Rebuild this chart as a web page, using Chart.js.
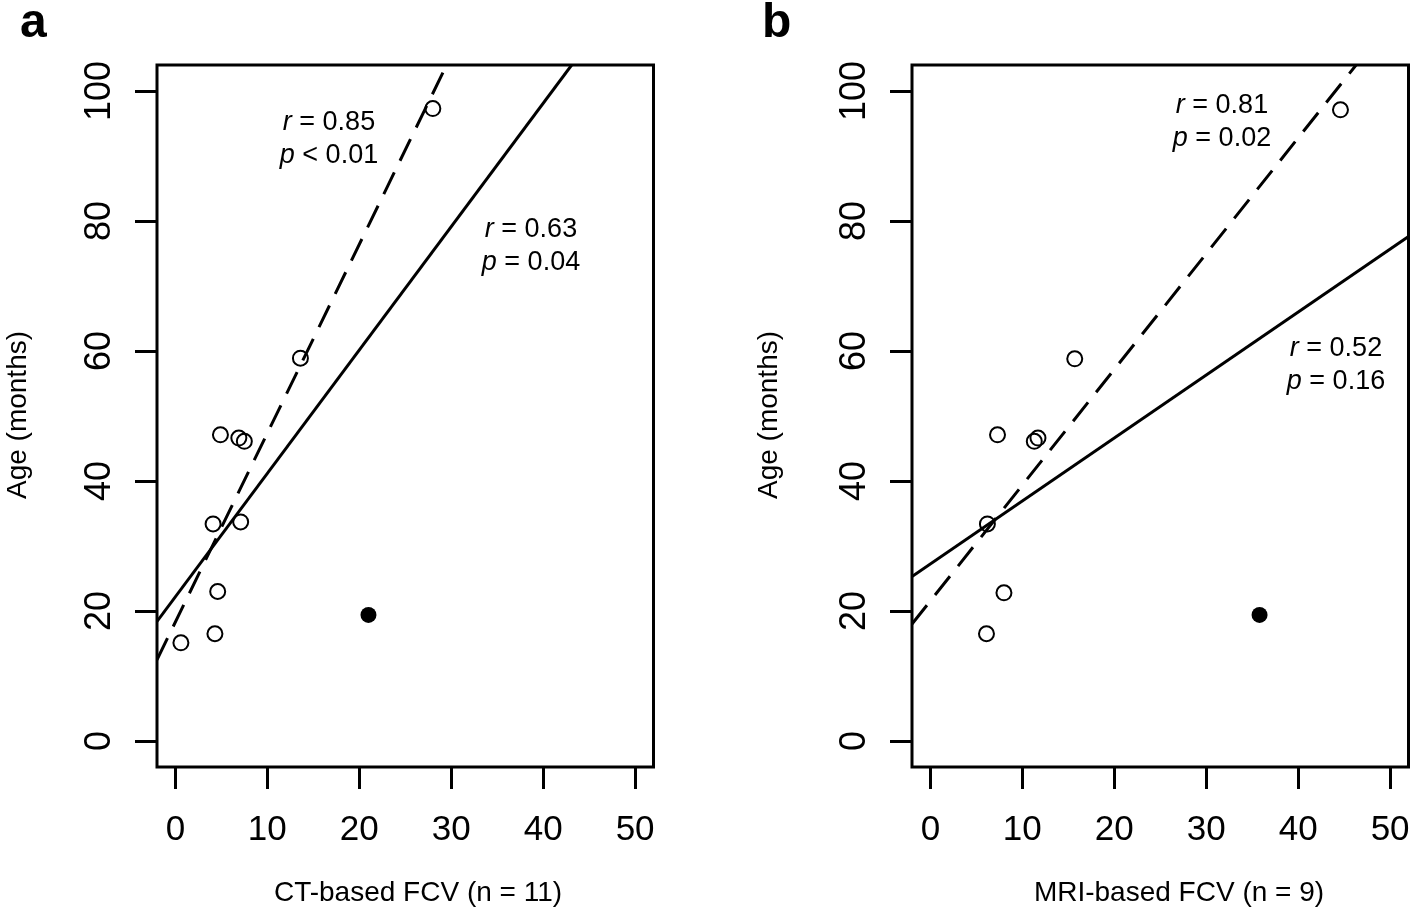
<!DOCTYPE html>
<html>
<head>
<meta charset="utf-8">
<script src="https://cdn.jsdelivr.net/npm/chart.js@4.4.0/dist/chart.umd.min.js"></script>
<style>
  body { margin: 0; background: #fff; }
  #wrap { position: relative; width: 1418px; height: 913px; overflow: hidden; }
  canvas { position: absolute; top: 0; }
</style>
</head>
<body>
<div id="wrap">
  <canvas id="panelA" width="663" height="913" style="left:0"></canvas>
  <canvas id="panelB" width="663" height="913" style="left:755px"></canvas>
</div>
<script>
const xTicks = [0, 10, 20, 30, 40, 50];
const yTicks = [0, 20, 40, 60, 80, 100];

// panel a - CT-based FCV
const ctOpenX = [28.0, 13.6, 4.9, 6.9, 7.5, 4.1, 7.1, 4.6, 4.3, 0.6];
const ctOpenY = [97.3, 58.9, 47.1, 46.6, 46.1, 33.4, 33.7, 23.0, 16.5, 15.1];
const ctFilledX = [21.0];
const ctFilledY = [19.4];
const ctSolidX = [-2, 43.1];
const ctSolidY = [18.4, 104];
const ctDashX = [-2, 29.5];
const ctDashY = [12.5, 104];
const ctDashStats = ['r = 0.85', 'p < 0.01'];
const ctSolidStats = ['r = 0.63', 'p = 0.04'];

// panel b - MRI-based FCV
const mriOpenX = [44.6, 15.7, 7.3, 11.3, 11.7, 6.2, 8.0, 6.1];
const mriOpenY = [97.1, 58.8, 47.1, 46.1, 46.6, 33.4, 22.8, 16.5];
const mriFilledX = [35.8];
const mriFilledY = [19.4];
const mriSolidX = [-2, 52];
const mriSolidY = [25.3, 77.6];
const mriDashX = [-2, 46.3];
const mriDashY = [18.0, 104];
const mriDashStats = ['r = 0.81', 'p = 0.02'];
const mriSolidStats = ['r = 0.52', 'p = 0.16'];

const FONT = '"Liberation Sans", Arial, Helvetica, sans-serif';

function pts(xs, ys) {
  return xs.map((x, i) => ({ x: x, y: ys[i] }));
}

// first character in italics (r, p), the rest upright, centred on cx
function statLine(ctx, s, cx, base, size) {
  const head = s.charAt(0), tail = s.slice(1);
  ctx.font = 'italic ' + size + 'px ' + FONT;
  const w1 = ctx.measureText(head).width;
  ctx.font = size + 'px ' + FONT;
  const w2 = ctx.measureText(tail).width;
  let x = cx - (w1 + w2) / 2;
  ctx.textAlign = 'left';
  ctx.textBaseline = 'alphabetic';
  ctx.font = 'italic ' + size + 'px ' + FONT;
  ctx.fillText(head, x, base);
  ctx.font = size + 'px ' + FONT;
  ctx.fillText(tail, x + w1, base);
}

function makePanel(id, p) {
  const decor = {
    id: 'decor',
    afterDraw(chart) {
      const ctx = chart.ctx;
      const a = chart.chartArea;
      const ys = chart.scales.y;
      ctx.save();
      ctx.fillStyle = '#000';
      ctx.strokeStyle = '#000';
      ctx.lineWidth = 3;
      ctx.strokeRect(a.left, a.top, a.right - a.left, a.bottom - a.top);

      // rotated y tick labels
      ctx.font = '36px ' + FONT;
      ctx.textAlign = 'center';
      ctx.textBaseline = 'alphabetic';
      yTicks.forEach(v => {
        ctx.save();
        ctx.translate(109.5, ys.getPixelForValue(v));
        ctx.rotate(-Math.PI / 2);
        ctx.fillText(String(v), 0, 0);
        ctx.restore();
      });

      // y title
      ctx.save();
      ctx.font = '28px ' + FONT;
      ctx.translate(p.yTitleX, 415);
      ctx.rotate(-Math.PI / 2);
      ctx.fillText('Age (months)', 0, 0);
      ctx.restore();

      // x title
      ctx.font = '28px ' + FONT;
      ctx.textAlign = 'center';
      ctx.fillText(p.xTitle, p.xTitleX, 901);

      // panel letter
      ctx.font = 'bold 48px ' + FONT;
      ctx.textAlign = 'left';
      ctx.fillText(p.letter, p.letterX, 37);

      // r / p statistics
      p.dashStats.forEach((s, i) => statLine(ctx, s, p.dashPos[0], p.dashPos[1] + i * 33, 27));
      p.solidStats.forEach((s, i) => statLine(ctx, s, p.solidPos[0], p.solidPos[1] + i * 33, 27));
      ctx.restore();
    }
  };

  return new Chart(document.getElementById(id), {
    type: 'scatter',
    data: {
      datasets: [
        {
          type: 'line', data: pts(p.solidX, p.solidY),
          borderColor: '#000', borderWidth: 3, pointRadius: 0, fill: false
        },
        {
          type: 'line', data: pts(p.dashX, p.dashY),
          borderColor: '#000', borderWidth: 3, borderDash: [24, 13], pointRadius: 0, fill: false
        },
        {
          data: pts(p.openX, p.openY),
          pointRadius: 7.5, borderWidth: 2, borderColor: '#000', backgroundColor: 'rgba(255,255,255,0)'
        },
        {
          data: pts(p.filledX, p.filledY),
          pointRadius: 8, borderWidth: 0, backgroundColor: '#000'
        }
      ]
    },
    options: {
      responsive: false,
      animation: false,
      devicePixelRatio: 1,
      layout: { padding: { left: 0, right: 6, top: 65, bottom: 0 } },
      plugins: { legend: { display: false }, tooltip: { enabled: false } },
      scales: {
        x: {
          type: 'linear', min: -2, max: 52,
          afterBuildTicks: s => { s.ticks = xTicks.map(v => ({ value: v })); },
          afterFit: s => { s.height = 146; s.paddingLeft = 0; s.paddingRight = 0; },
          grid: { drawOnChartArea: false, drawTicks: true, tickLength: 22, lineWidth: 3, color: '#000' },
          border: { display: false },
          ticks: { color: '#000', font: { family: FONT, size: 35 }, padding: 20, maxRotation: 0, autoSkip: false }
        },
        y: {
          type: 'linear', min: -4, max: 104,
          afterBuildTicks: s => { s.ticks = yTicks.map(v => ({ value: v })); },
          afterFit: s => { s.width = 157; s.paddingTop = 0; s.paddingBottom = 0; },
          grid: { drawOnChartArea: false, drawTicks: true, tickLength: 22, lineWidth: 3, color: '#000' },
          border: { display: false },
          ticks: { display: false }
        }
      }
    },
    plugins: [decor]
  });
}

makePanel('panelA', {
  openX: ctOpenX, openY: ctOpenY, filledX: ctFilledX, filledY: ctFilledY,
  solidX: ctSolidX, solidY: ctSolidY, dashX: ctDashX, dashY: ctDashY,
  dashStats: ctDashStats, solidStats: ctSolidStats,
  dashPos: [329, 130], solidPos: [531, 237],
  xTitle: 'CT-based FCV (n = 11)', xTitleX: 418, yTitleX: 26,
  letter: 'a', letterX: 20
});

makePanel('panelB', {
  openX: mriOpenX, openY: mriOpenY, filledX: mriFilledX, filledY: mriFilledY,
  solidX: mriSolidX, solidY: mriSolidY, dashX: mriDashX, dashY: mriDashY,
  dashStats: mriDashStats, solidStats: mriSolidStats,
  dashPos: [467, 113], solidPos: [581, 356],
  xTitle: 'MRI-based FCV (n = 9)', xTitleX: 424, yTitleX: 22,
  letter: 'b', letterX: 7
});
</script>
</body>
</html>
